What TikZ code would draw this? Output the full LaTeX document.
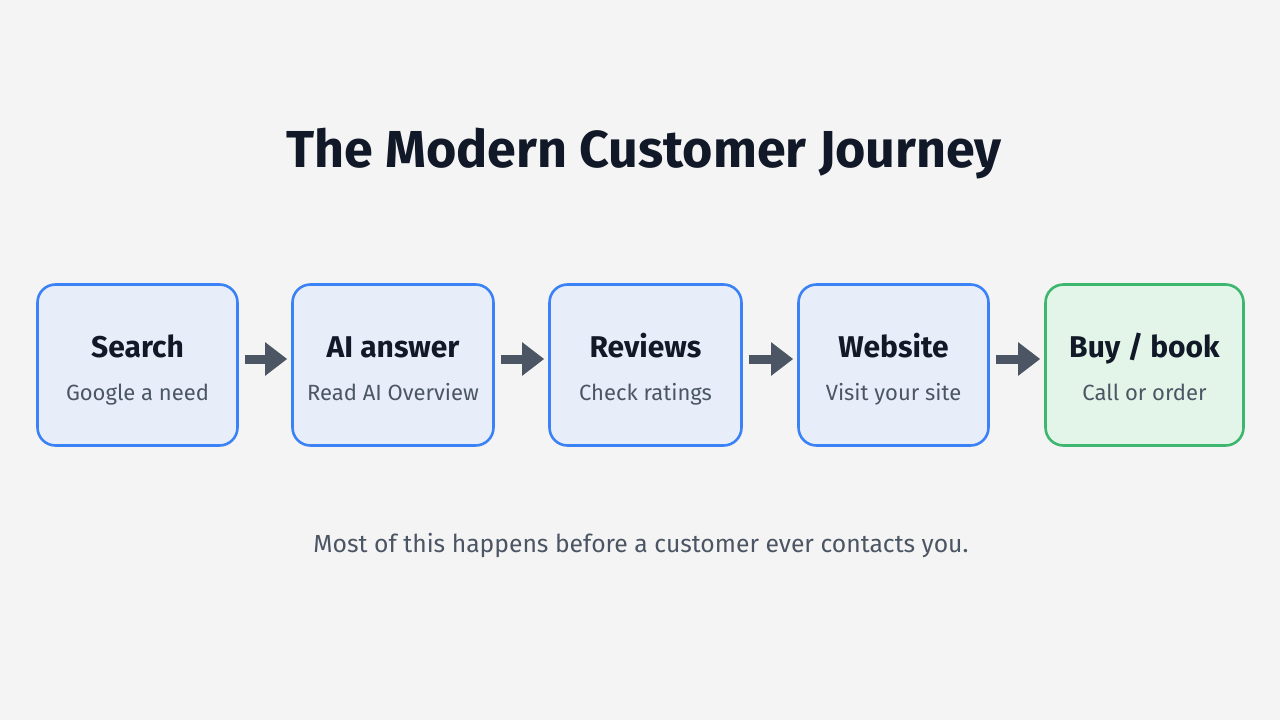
\documentclass[tikz,border=0pt]{standalone}
\usepackage{fontspec}
\setmainfont{Fira Sans}
\usetikzlibrary{positioning,arrows.meta}
\definecolor{bg}{HTML}{F4F4F4}
\definecolor{ink}{HTML}{111827}
\definecolor{mute}{HTML}{4B5563}
\definecolor{bluefill}{HTML}{E7EEFA}
\definecolor{blueline}{HTML}{3B82F6}
\definecolor{greenfill}{HTML}{E2F5E8}
\definecolor{greenline}{HTML}{3DB66F}
\definecolor{arr}{HTML}{4B5563}
\tikzset{
  stage/.style={draw=blueline, line width=2.6pt, rounded corners=18pt, fill=bluefill,
                minimum height=161pt, inner sep=0pt},
  goal/.style={stage, draw=greenline, fill=greenfill},
  hd/.style={font=\fontsize{30}{36}\selectfont\bfseries, text=ink, anchor=base},
  sub/.style={font=\fontsize{22}{26}\selectfont, text=mute, anchor=base},
  flow/.style={-{Triangle[length=22pt,width=32pt]}, line width=9pt, draw=arr},
}

\begin{document}
\begin{tikzpicture}[x=1pt, y=-1pt]
  \useasboundingbox[fill=bg] (0,0) rectangle (1280,720);
  \node[font=\fontsize{52}{62}\selectfont\bfseries, text=ink, anchor=base] (title) at (644,167) {The Modern Customer Journey};
  % the five steps
  \node[stage, minimum width=200pt] (s1) at (137.5,365) {};
  \node[stage, minimum width=201pt] (s2) at (393,365) {};
  \node[stage, minimum width=192pt] (s3) at (645.5,365) {};
  \node[stage, minimum width=190pt] (s4) at (893.5,365) {};
  \node[goal, minimum width=198pt] (s5) at (1144.5,365) {};
  \node[hd] (h1) at ([yshift=8pt]s1.center) {Search};
  \node[sub] (t1) at ([yshift=-35pt]s1.center) {Google a need};
  \node[hd] (h2) at ([yshift=8pt]s2.center) {AI answer};
  \node[sub] (t2) at ([yshift=-35pt]s2.center) {Read AI Overview};
  \node[hd] (h3) at ([yshift=8pt]s3.center) {Reviews};
  \node[sub] (t3) at ([yshift=-35pt]s3.center) {Check ratings};
  \node[hd] (h4) at ([yshift=8pt]s4.center) {Website};
  \node[sub] (t4) at ([yshift=-35pt]s4.center) {Visit your site};
  \node[hd] (h5) at ([yshift=8pt]s5.center) {Buy / book};
  \node[sub] (t5) at ([yshift=-35pt]s5.center) {Call or order};
  % arrows between steps
  \draw[flow] ([xshift=6pt,yshift=6pt]s1.east) -- ([xshift=-4pt,yshift=6pt]s2.west);
  \draw[flow] ([xshift=6pt,yshift=6pt]s2.east) -- ([xshift=-4pt,yshift=6pt]s3.west);
  \draw[flow] ([xshift=6pt,yshift=6pt]s3.east) -- ([xshift=-4pt,yshift=6pt]s4.west);
  \draw[flow] ([xshift=6pt,yshift=6pt]s4.east) -- ([xshift=-4pt,yshift=6pt]s5.west);
  \node[font=\fontsize{24.7}{29}\selectfont, text=mute] (note) at (641,545) {Most of this happens before a customer ever contacts you.};
\end{tikzpicture}
\end{document}
